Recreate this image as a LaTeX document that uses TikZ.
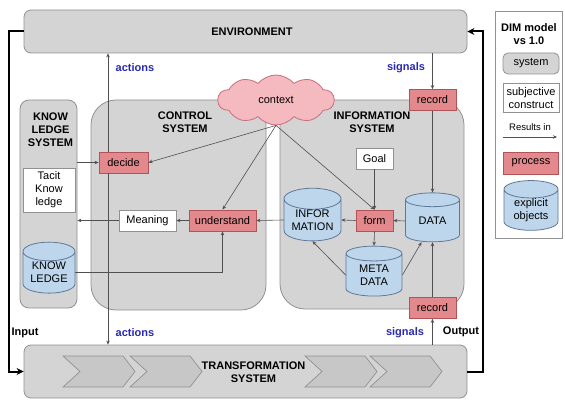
\documentclass[tikz,border=0pt]{standalone}
\usepackage{fontspec}
\setmainfont{Liberation Sans}
\usetikzlibrary{arrows.meta}
\usetikzlibrary{shapes.geometric}
\usetikzlibrary{shapes.symbols}

\definecolor{sysgray}{RGB}{212,212,212}
\definecolor{sysedge}{RGB}{145,145,145}
\definecolor{procred}{RGB}{227,137,141}
\definecolor{procedge}{RGB}{175,85,90}
\definecolor{cylblue}{RGB}{190,214,236}
\definecolor{cyledge}{RGB}{95,120,150}
\definecolor{cloudpink}{RGB}{245,185,192}
\definecolor{cloudedge}{RGB}{200,110,125}
\definecolor{lblblue}{RGB}{40,40,180}
\definecolor{lineg}{RGB}{80,80,80}

\begin{document}
\begin{tikzpicture}[x=1pt,y=1pt,yscale=-1,
    every node/.style={font=\fontsize{11}{13}\selectfont, align=center, inner sep=0pt},
    sysbox/.style={draw=sysedge, fill=sysgray, rounded corners=7pt, line width=0.8pt},
    bigsys/.style={sysbox, rounded corners=25pt},
    construct/.style={draw=sysedge, fill=white, line width=0.8pt},
    process/.style={draw=procedge, fill=procred, line width=0.8pt, minimum height=21pt},
    store/.style={cylinder, shape border rotate=90, aspect=0.5, draw=cyledge, line width=0.8pt,
        cylinder uses custom fill, cylinder body fill=cylblue, cylinder end fill=cylblue},
    flow/.style={draw=lineg, line width=0.6pt, -{Stealth[length=4pt,width=3.5pt]}},
    loopline/.style={line width=2pt, -{Stealth[length=7pt,width=7pt]}},
    syslabel/.style={font=\fontsize{11}{13}\selectfont\bfseries},
    sigl/.style={font=\fontsize{11}{13}\selectfont\bfseries, text=lblblue},
    chevron/.style={draw=sysedge, fill=sysgray!94!black, line width=0.7pt}]
        \useasboundingbox (0,0) rectangle (565,401);

        %Shape: Rounded Rect (environment)
        \node[sysbox, minimum width=443pt, minimum height=43pt] (env) at (245.5,31.5) {};
        \node[syslabel] (envlbl) at (252,32) {ENVIRONMENT};
        %Shape: Rounded Rect (transformation)
        \node[sysbox, minimum width=443pt, minimum height=53pt] (trans) at (245.5,371.5) {};
        %Shape: Chevrons
        \foreach \cx in {63,130,305,370}
            \draw[chevron] (\cx,356) -- ++(60,0) -- ++(12,15.5) -- ++(-12,15.5) -- ++(-60,0) -- ++(17,-15.5) -- cycle ;
        \node[syslabel] (translbl) at (253.5,372) {TRANSFORMATION\\SYSTEM};

        %Shape: Rounded Rect (subsystems)
        \node[sysbox, rounded corners=9pt, minimum width=57pt, minimum height=208pt] (know) at (48.5,204) {};
        \node[syslabel] (knowlbl) at (50.5,130) {KNOW\\LEDGE\\SYSTEM};
        \node[bigsys, minimum width=175pt, minimum height=210pt] (ctrl) at (178.5,205) {};
        \node[syslabel] (ctrllbl) at (185,122) {CONTROL\\SYSTEM};
        \node[bigsys, minimum width=184pt, minimum height=209pt] (info) at (372,204.5) {};
        \node[syslabel] (infolbl) at (372,122) {INFORMATION\\SYSTEM};

        %Shape: Cloud
        \node[cloud, cloud puffs=10, cloud puff arc=100, aspect=2.4, draw=cloudedge, fill=cloudpink, line width=0.8pt,
            minimum width=116pt, minimum height=50pt] (ctx) at (276,100) {context};

        %Shape: Boxes (knowledge system)
        \node[construct, minimum width=52pt, minimum height=44pt] (tacit) at (49,190) {Tacit\\Know\\ledge};
        \node[store, minimum width=52pt, minimum height=51pt] (kb) at (49,272.5) {KNOW\\LEDGE};
        %Shape: Boxes (control system)
        \node[process, minimum width=49pt] (decide) at (123.5,162.5) {decide};
        \node[process, minimum width=67pt] (understand) at (222.5,220.5) {understand};
        \node[construct, minimum width=57pt, minimum height=21pt] (meaning) at (147.5,220.5) {Meaning};
        %Shape: Boxes (information system)
        \node[construct, minimum width=37pt, minimum height=21pt] (goal) at (374.5,158.5) {Goal};
        \node[process, minimum width=37pt] (form) at (374.5,220.5) {form};
        \node[store, minimum width=57pt, minimum height=50pt] (infocyl) at (312.5,220) {INFOR\\MATION};
        \node[store, minimum width=56pt, minimum height=50pt] (meta) at (374,275) {META\\DATA};
        \node[store, minimum width=54pt, minimum height=49pt] (data) at (432.5,221) {DATA};
        \node[process, minimum width=47pt] (rec1) at (432.5,100) {record};
        \node[process, minimum width=47pt] (rec2) at (432.5,308) {record};

        %Straight Lines (actions)
        \coordinate (act) at (108,0);
        \draw[flow] (act |- decide.north) -- (act |- env.south) ;
        \draw[flow] (act |- decide.south) -- (act |- trans.north) ;
        \node[sigl] (actup) at (135,68) {actions};
        \node[sigl] (actdn) at (135,333) {actions};
        %Straight Lines (signals)
        \draw[flow] (env.south -| rec1) -- (rec1.north) ;
        \draw[flow] (rec1.south) -- (data.north) ;
        \draw[flow] (trans.north -| rec2) -- (rec2.south) ;
        \draw[flow] (rec2.north) -- (data.south) ;
        \node[sigl] (sigup) at (406,68) {signals};
        \node[sigl] (sigdn) at (405,333) {signals};

        %Straight Lines (context)
        \draw[flow] (ctx.south) -- (decide.east) ;
        \draw[flow] (ctx.south) -- (understand.north) ;
        \draw[flow] (ctx.south) -- (form.north) ;
        %Straight Lines (control system)
        \draw[flow] (know.east |- decide) -- (decide.west) ;
        \draw[flow] (understand.west) -- (meaning.east) ;
        \draw[flow] (meaning.west) -- (meaning -| know.east) ;
        \draw[flow] (kb.east) -| (understand.south) ;
        %Straight Lines (information system)
        \draw[flow] (infocyl.west) -- (understand.east) ;
        \draw[flow] (form.west) -- (infocyl.east) ;
        \draw[flow] (data.west) -- (form.east) ;
        \draw[flow] (goal.south) -- (form.north) ;
        \draw[flow] (form.south) -- (meta.north) ;
        \draw[flow] (meta.west) -- (infocyl.south) ;
        \draw[flow] (meta.east) -- ([xshift=-11pt]data.south) ;

        %Straight Lines (outer loop)
        \draw[loopline] (env.west) -- ++(-15,0) |- (trans.west) ;
        \draw[loopline] (trans.east) -- ++(16,0) |- (env.east) ;
        \node[syslabel] (inlbl) at (25,333) {Input};
        \node[syslabel] (outlbl) at (461,332) {Output};

        %Shape: Legend
        \node[construct, minimum width=67pt, minimum height=227pt] (legend) at (528.5,124.5) {};
        \node[syslabel] (legtitle) at (529,34) {DIM model\\vs 1.0};
        \node[sysbox, rounded corners=5pt, minimum width=56pt, minimum height=21pt] (legsys) at (531,63.5) {system};
        \node[construct, minimum width=56pt, minimum height=29pt] (legcon) at (531,98) {subjective\\construct};
        \node[font=\fontsize{9.5}{11}\selectfont] (legres) at (530,127) {Results in};
        \coordinate (resA) at (503,137);
        \coordinate (resB) at (557,137);
        \draw[flow] (resA) -- (resB) ;
        \node[process, minimum width=55pt, minimum height=22pt] (legproc) at (531,163) {process};
        \node[store, minimum width=54pt, minimum height=46pt] (legobj) at (531,210) {explicit\\objects};
\end{tikzpicture}
\end{document}
